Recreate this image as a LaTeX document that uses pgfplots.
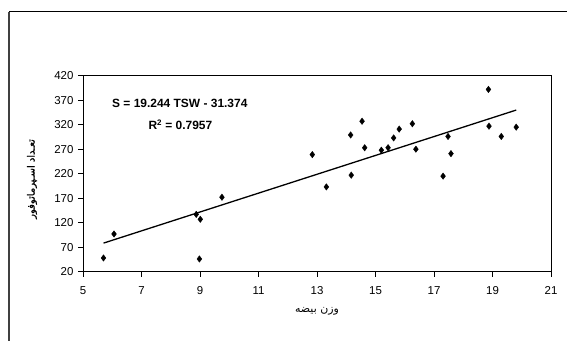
\documentclass[border=0pt]{standalone}
\usepackage{fontspec}
\usepackage{pgfplots}
\pgfplotsset{compat=1.18}
\setmainfont{Liberation Sans}
\newfontfamily\arabicfont[Script=Arabic]{DejaVu Sans}
\newfontfamily\arabicbold[Script=Arabic,FakeBold=1.3]{DejaVu Sans}
\TeXXeTstate=1

\begin{document}
\begin{tikzpicture}[x=1bp,y=1bp]
\path[use as bounding box] (0,0) rectangle (567,341);
% chart frame (top and left edges)
\draw[line width=1bp,black] (9,329) -- (567,329);
\draw[line width=2bp,black!75] (9,329) -- (9,0);

\begin{axis}[
  at={(83bp,69.3bp)}, anchor=south west,
  scale only axis, width=468bp, height=196bp,
  xmin=5, xmax=21, ymin=20, ymax=420,
  xtick={5,7,...,21}, ytick={20,70,...,420},
  tick align=outside, major tick length=5bp,
  tick style={black, line width=0.8bp},
  axis line style={line width=0.9bp},
  xtick pos=bottom, ytick pos=left,
  /pgf/number format/assume math mode=true,
  tick label style={font=\fontsize{11.5}{13}\selectfont},
  xticklabel style={yshift=-6bp},
  yticklabel style={xshift=-1bp},
  clip=false,
]
% measured points
\addplot[only marks, mark=diamond*, mark size=3.2bp, black] coordinates {
  (5.70,48) (6.06,97) (8.87,137) (9.01,127) (8.98,46) (9.75,172)
  (12.84,259) (13.32,193) (14.15,299) (14.17,217) (14.54,327)
  (14.63,273) (15.20,268) (15.43,273) (15.62,293) (15.81,311)
  (16.26,322) (16.38,270) (17.31,215) (17.48,296) (17.58,261)
  (18.86,392) (18.88,317) (19.30,296) (19.81,315)
};
% linear fit S = 19.244 TSW - 31.374
\addplot[black, line width=1.3bp] coordinates {(5.70,78.32) (19.81,349.86)};
\node[font=\bfseries\fontsize{12}{14}\selectfont] at (axis cs:8.31,364.3) {S = 19.244 TSW - 31.374};
\node[font=\bfseries\fontsize{12}{14}\selectfont] at (axis cs:8.33,319.4) {R\textsuperscript{2} = 0.7957};
\end{axis}

\node[font=\arabicbold\fontsize{10}{12}\selectfont, rotate=90] at (32,162) {\beginR تعـداد اسـپرماتوفور\endR};
\node[font=\arabicfont\fontsize{11}{13}\selectfont] at (317,30) {\beginR وزن بیضه\endR};
\end{tikzpicture}
\end{document}
